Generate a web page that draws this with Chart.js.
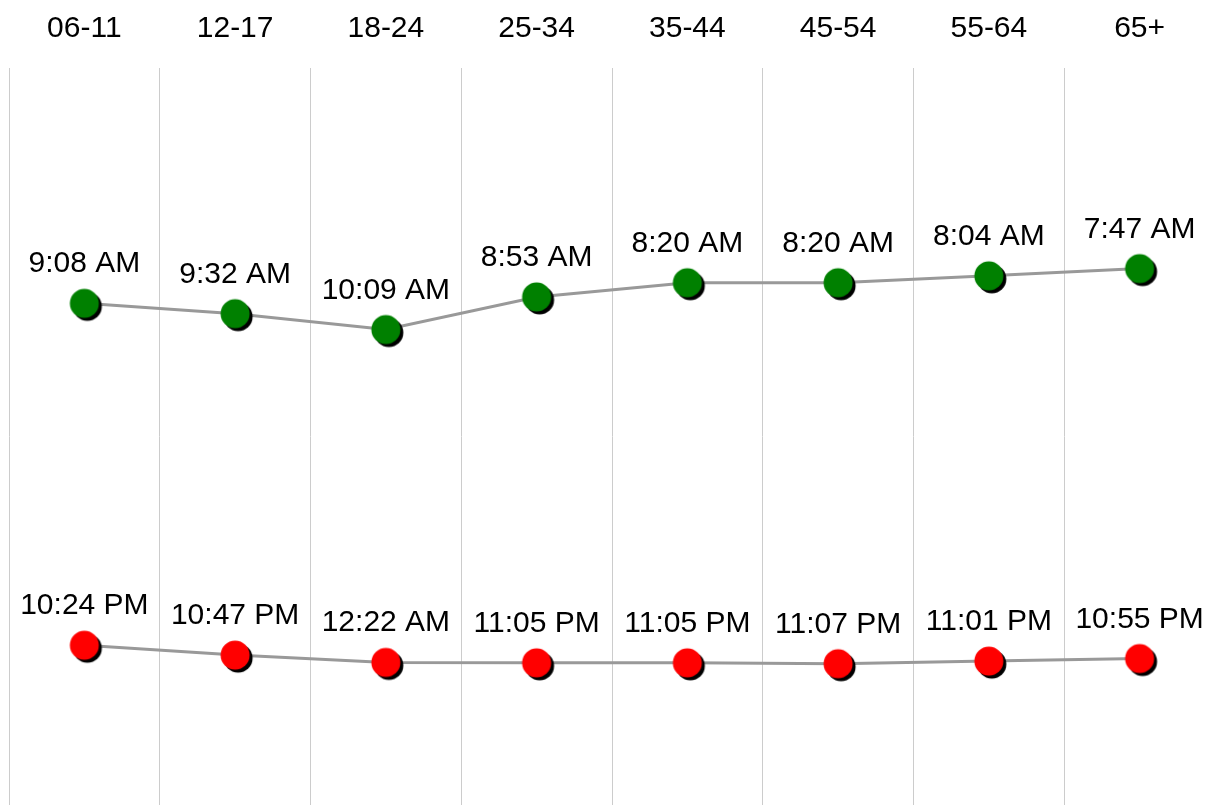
<!DOCTYPE html>
<html>
<head>
<meta charset="utf-8">
<meta name="viewport" content="width=1205">
<script src="https://cdn.jsdelivr.net/npm/chart.js@4/dist/chart.umd.min.js"></script>
<style>
  html, body { margin: 0; padding: 0; width: 1205px; height: 805px; overflow: hidden; background: #fff; }
  #caixa { position: absolute; left: 0; top: 0; width: 1205px; height: 805px; overflow: hidden; }
  canvas { display: block; }
</style>
</head>
<body>
<div id="caixa">
<canvas id="graficoHorarios" width="1215" height="805"></canvas>
</div>
<script>
// faixas etarias (eixo x, em cima)
const faixas = ['06-11', '12-17', '18-24', '25-34', '35-44', '45-54', '55-64', '65+']

// horario de acordar, minutos desde meia-noite
const acordarMin = [548, 572, 609, 533, 500, 500, 484, 467]
const acordarTxt = ['9:08 AM', '9:32 AM', '10:09 AM', '8:53 AM', '8:20 AM', '8:20 AM', '8:04 AM', '7:47 AM']

// horario de dormir, minutos desde meia-noite (posicao)
const dormirMin = [1344, 1367, 1384, 1385, 1385, 1387, 1381, 1375]
const dormirTxt = ['10:24 PM', '10:47 PM', '12:22 AM', '11:05 PM', '11:05 PM', '11:07 PM', '11:01 PM', '10:55 PM']

const fonte = "'Liberation Sans', Arial, sans-serif"

// bolinha com sombra preta
function bolinha(cor){
    let c = document.createElement('canvas')
    c.width = 42
    c.height = 42
    let g = c.getContext('2d')
    g.fillStyle = '#000'
    g.beginPath()
    g.arc(24, 24, 14.5, 0, Math.PI * 2)
    g.fill()
    g.fillStyle = cor
    g.beginPath()
    g.arc(21, 21, 14.5, 0, Math.PI * 2)
    g.fill()
    return c
}

var rotulos = {
    id: 'rotulos',
    afterDatasetsDraw(chart){
        let ctx = chart.ctx
        ctx.save()
        ctx.font = '30px ' + fonte
        ctx.fillStyle = '#000'
        ctx.textAlign = 'center'
        ctx.textBaseline = 'alphabetic'
        chart.data.datasets.forEach((ds, i) => {
            let meta = chart.getDatasetMeta(i)
            meta.data.forEach((pt, j) => {
                ctx.fillText(ds.textos[j], pt.x, pt.y - 31)
            })
        })
        ctx.restore()
    }
}

var ctx = document.getElementById('graficoHorarios').getContext('2d');
var graficoHorarios = new Chart(ctx, {
    type: 'line',
    data: {
        labels: faixas,
        datasets: [
            {
                label: 'Acordar',
                data: acordarMin,
                textos: acordarTxt,
                borderColor: '#999999',
                borderWidth: 3,
                pointStyle: bolinha('#008000'),
                pointRadius: 15,
                tension: 0
            },
            {
                label: 'Dormir',
                data: dormirMin,
                textos: dormirTxt,
                borderColor: '#999999',
                borderWidth: 3,
                pointStyle: bolinha('#ff0000'),
                pointRadius: 15,
                tension: 0
            }
        ]
    },
    options: {
        responsive: false,
        animation: false,
        events: [],
        layout: { autoPadding: false, padding: { left: 9, right: 0, top: 0, bottom: 0 } },
        plugins: {
            legend: { display: false },
            tooltip: { enabled: false }
        },
        scales: {
            x: {
                position: 'top',
                offset: true,
                grid: { offset: true, color: '#cccccc', lineWidth: 1, drawTicks: false },
                border: { display: false },
                ticks: { color: '#000', padding: 21, font: { family: fonte, size: 30 } },
                afterFit: function(scale){
                    scale.height = 68
                    scale.paddingLeft = 0
                    scale.paddingRight = 0
                }
            },
            y: {
                display: false,
                reverse: true,
                min: 0,
                max: 1716
            }
        }
    },
    plugins: [rotulos]
});
</script>
</body>
</html>
